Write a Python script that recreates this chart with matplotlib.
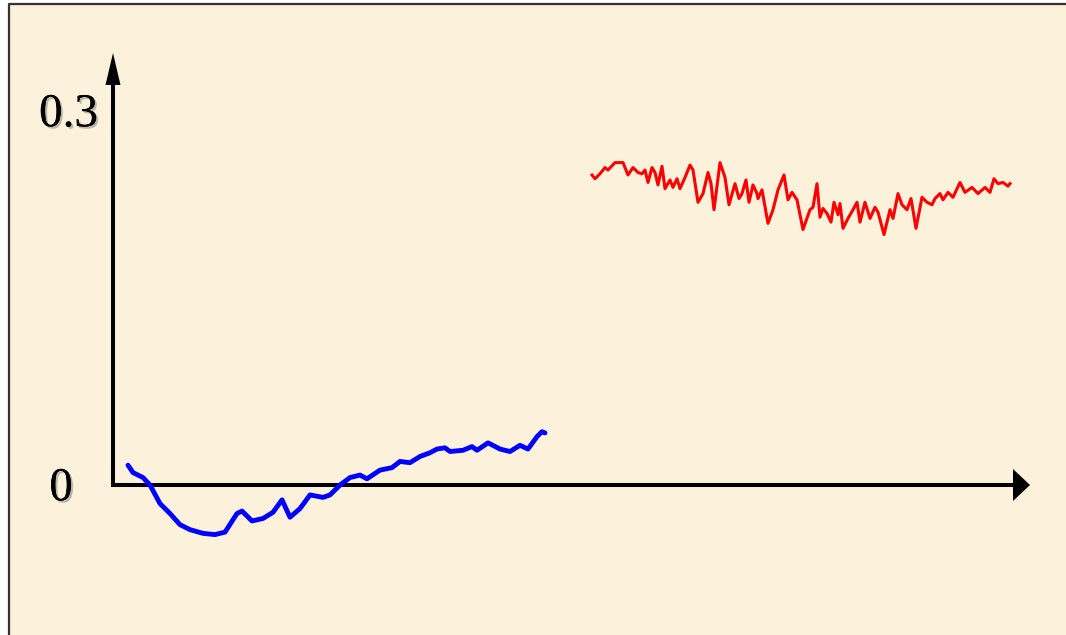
import matplotlib
matplotlib.use("Agg")
import matplotlib.pyplot as plt
import matplotlib.patches as mpatches
import matplotlib.lines as mlines
import matplotlib.patheffects as pe

# ---- data (x: sample index, y: value) ----
blue_t = [15, 20, 30, 37, 47, 57, 67, 77, 90, 102, 112, 124, 129, 139, 150, 160,
          169, 177, 187, 197, 210, 217, 227, 237, 247, 254, 267, 279, 287, 297,
          307, 317, 324, 332, 337, 350, 359, 364, 375, 387, 397, 407, 415, 424,
          429, 432]
blue_y = [0.016, 0.010, 0.006, 0.000, -0.015, -0.023, -0.032, -0.036, -0.039,
          -0.040, -0.038, -0.023, -0.021, -0.029, -0.027, -0.022, -0.012, -0.026,
          -0.019, -0.008, -0.010, -0.008, 0.000, 0.006, 0.008, 0.005, 0.012,
          0.014, 0.019, 0.018, 0.023, 0.026, 0.029, 0.030, 0.027, 0.028, 0.031,
          0.028, 0.034, 0.029, 0.027, 0.032, 0.029, 0.039, 0.043, 0.042]

red_t = [479, 482, 487, 492, 495, 502, 505, 510, 515, 520, 525, 529, 532, 535,
         539, 542, 545, 549, 552, 557, 560, 564, 567, 572, 577, 580, 585, 590,
         595, 598, 601, 607, 612, 616, 622, 626, 629, 633, 636, 640, 644, 645,
         649, 655, 660, 665, 671, 675, 679, 684, 690, 697, 700, 704, 707, 710,
         714, 718, 721, 725, 727, 730, 735, 740, 744, 747, 752, 757, 762, 765,
         771, 777, 780, 785, 789, 794, 798, 803, 809, 814, 819, 822, 827, 830,
         835, 840, 847, 852, 859, 865, 872, 877, 881, 885, 890, 895, 897]
red_y = [0.250, 0.247, 0.251, 0.256, 0.254, 0.260, 0.260, 0.260, 0.250, 0.256,
         0.252, 0.251, 0.254, 0.244, 0.256, 0.252, 0.242, 0.257, 0.239, 0.246,
         0.240, 0.247, 0.239, 0.248, 0.258, 0.254, 0.228, 0.235, 0.252, 0.243,
         0.222, 0.260, 0.248, 0.226, 0.243, 0.231, 0.235, 0.246, 0.228, 0.242,
         0.235, 0.231, 0.238, 0.211, 0.222, 0.238, 0.250, 0.230, 0.236, 0.230,
         0.206, 0.222, 0.224, 0.243, 0.216, 0.223, 0.219, 0.212, 0.228, 0.218,
         0.227, 0.207, 0.215, 0.222, 0.228, 0.212, 0.228, 0.215, 0.224, 0.220,
         0.202, 0.222, 0.215, 0.235, 0.226, 0.222, 0.231, 0.207, 0.232, 0.228,
         0.226, 0.231, 0.235, 0.230, 0.236, 0.232, 0.244, 0.236, 0.240, 0.235,
         0.240, 0.236, 0.247, 0.243, 0.244, 0.241, 0.243]

y_tick_values = [0.3, 0.0]
y_tick_labels = ["0.3", "0"]

# ---- figure ----
W, H = 1066, 635
fig = plt.figure(figsize=(W / 100, H / 100), dpi=100)
fig.patch.set_facecolor("white")

bx0, by1 = 9 / W, (H - 4) / H
bg = mpatches.Rectangle((bx0, -0.05), 1.2, by1 + 0.05,
                        transform=fig.transFigure, facecolor="#FCF1DA",
                        edgecolor="none", zorder=-10)
fig.patches.append(bg)
fig.lines.append(mlines.Line2D([bx0, bx0, 1.05], [-0.05, by1, by1],
                               transform=fig.transFigure, color="#333333",
                               lw=1.6, zorder=-9))

ax = fig.add_axes([113 / W, 0, 917 / W, 1])
ax.set_zorder(1)
ax.set_xlim(0, 917)
ypp = 0.3 / 372.0
ax.set_ylim(-150 * ypp, 485 * ypp)
ax.axis("off")
ax.patch.set_alpha(0)

# axes with arrows
y_arrow_base = 400 * ypp
y_arrow_tip = 432 * ypp
x_arrow_base = 900
x_arrow_tip = 917
ax.plot([0, 0, x_arrow_base], [y_arrow_base, 0, 0], color="black", lw=2.9,
        solid_joinstyle="miter", solid_capstyle="butt", clip_on=False, zorder=2)
ax.add_patch(mpatches.Polygon([[x_arrow_tip, 0], [x_arrow_base, 16 * ypp],
                               [x_arrow_base, -16 * ypp]], closed=True,
                              facecolor="black", edgecolor="none", clip_on=False,
                              zorder=2))
ax.add_patch(mpatches.Polygon([[0, y_arrow_tip], [-7.5, y_arrow_base],
                               [7.5, y_arrow_base]], closed=True,
                              facecolor="black", edgecolor="none", clip_on=False,
                              zorder=2))

# lines
ax.plot(blue_t, blue_y, color="#0000FF", lw=3.5, solid_joinstyle="round",
        solid_capstyle="round", clip_on=False, zorder=3)
ax.plot(red_t, red_y, color="#FF0000", lw=2.2, solid_joinstyle="round",
        clip_on=False, zorder=3)

# labels
shadow = [pe.withSimplePatchShadow(offset=(1.5, -1.5), shadow_rgbFace="#888888",
                                   alpha=0.55), pe.Normal()]
ax.text(-15, y_tick_values[0] - 2 * ypp, y_tick_labels[0], ha="right", va="center",
        fontsize=34, family="Liberation Serif", path_effects=shadow, clip_on=False)
ax.text(-52, y_tick_values[1] - 4 * ypp, y_tick_labels[1], ha="center", va="center",
        fontsize=34, family="Liberation Serif", path_effects=shadow, clip_on=False)

fig.savefig("out.png", dpi=100, facecolor=fig.get_facecolor())
